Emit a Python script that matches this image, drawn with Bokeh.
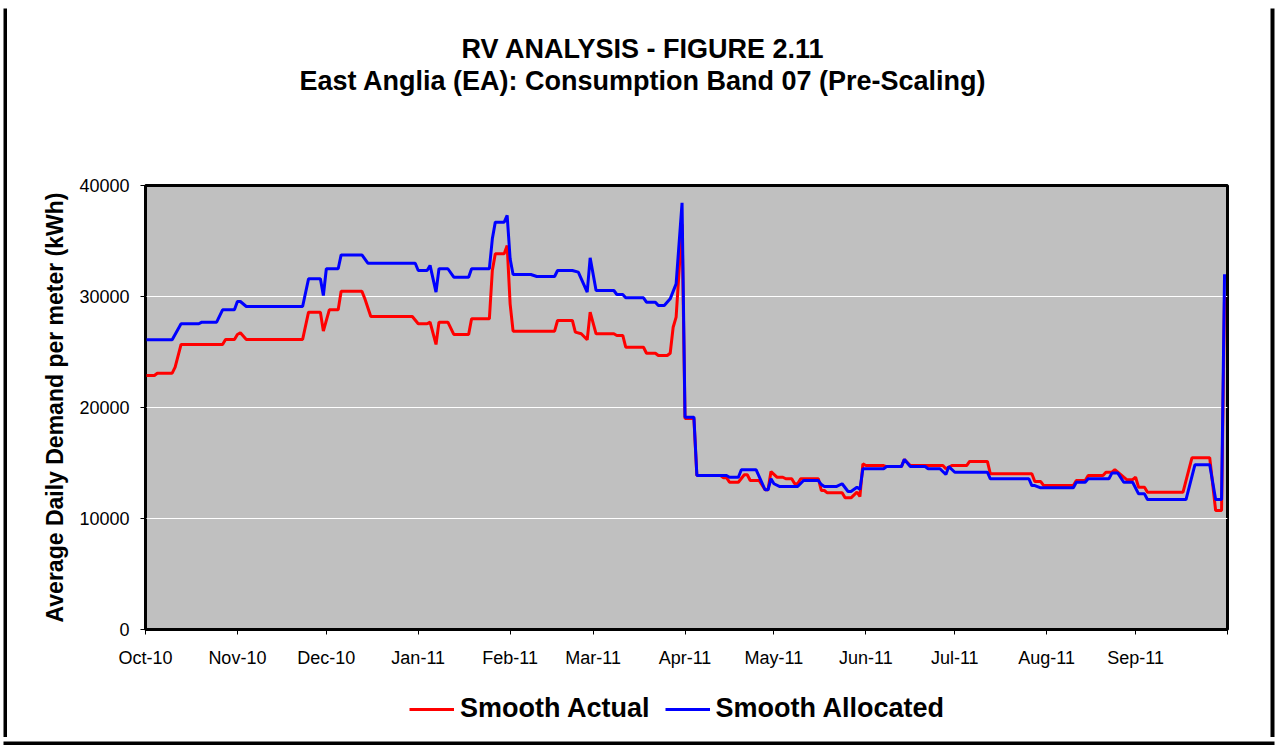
from bokeh.plotting import figure
from bokeh.layouts import column, row
from bokeh.models import (FixedTicker, Legend, LegendItem, Title,
                          NumeralTickFormatter, Range1d)
from bokeh.embed import file_html
from bokeh.resources import INLINE

# ---- data (day offsets from 1 Oct 2010) ----
month_ticks = [0, 31, 61, 92, 123, 151, 182, 212, 243, 273, 304, 334, 365]
month_labels = ["Oct-10", "Nov-10", "Dec-10", "Jan-11", "Feb-11", "Mar-11",
                "Apr-11", "May-11", "Jun-11", "Jul-11", "Aug-11", "Sep-11", ""]
y_ticks = [0, 10000, 20000, 30000, 40000]

allocated_day = [0, 9, 12, 18, 19, 24, 26, 30, 31, 32, 34, 53, 55, 59, 60, 61, 65, 66,
                 73, 75, 91, 92, 95, 96, 98, 99, 102, 104, 109, 110, 116, 117, 118, 121,
                 122, 123, 124, 130, 132, 138, 139, 144, 146, 149, 150, 152, 158, 159,
                 161, 162, 168, 169, 172, 173, 175, 177, 179, 181, 182, 185, 186, 196,
                 197, 200, 201, 206, 209, 210, 211, 212, 214, 220, 222, 227, 228, 229,
                 233, 235, 237, 238, 240, 241, 242, 249, 250, 255, 256, 258, 263, 264,
                 268, 270, 271, 273, 284, 285, 298, 299, 300, 302, 313, 314, 317, 318,
                 325, 326, 328, 330, 333, 335, 337, 338, 351, 354, 359, 361, 363, 364]
allocated_val = [26100, 26100, 27540, 27540, 27690, 27690, 28800, 28800, 29550, 29550,
                 29100, 29100, 31590, 31590, 30090, 32500, 32500, 33750, 33750, 33000,
                 33000, 32340, 32340, 32800, 30390, 32500, 32500, 31740, 31740, 32500,
                 32500, 35200, 36700, 36700, 37300, 33400, 31980, 31980, 31800, 31800,
                 32340, 32340, 32200, 30390, 33490, 30540, 30540, 30180, 30180, 29880,
                 29880, 29490, 29490, 29190, 29190, 29790, 31140, 38440, 19130, 19130,
                 13870, 13870, 13720, 13720, 14390, 14390, 12590, 12590, 13580, 13130,
                 12880, 12880, 13420, 13420, 13060, 12880, 12880, 13130, 12430, 12430,
                 12820, 12620, 14480, 14480, 14680, 14680, 15320, 14680, 14680, 14480,
                 14480, 13960, 14680, 14170, 14170, 13580, 13580, 12970, 12970, 12760,
                 12760, 13270, 13270, 13580, 13580, 14090, 14090, 13270, 13270, 12220,
                 12220, 11710, 11710, 14840, 14840, 11710, 11710, 32000]

actual_day = [0, 3, 4, 9, 10, 12, 26, 27, 30, 31, 32, 34, 53, 55, 59, 60, 62, 65, 66,
              73, 74, 76, 90, 92, 95, 96, 98, 99, 102, 104, 109, 110, 116, 117, 118,
              121, 122, 123, 124, 138, 139, 144, 145, 147, 149, 150, 152, 158, 159,
              161, 162, 168, 169, 172, 173, 176, 177, 178, 179, 181, 182, 185, 186,
              194, 195, 196, 197, 200, 202, 203, 204, 207, 209, 210, 211, 213, 215,
              216, 218, 219, 220, 221, 227, 228, 229, 230, 235, 236, 238, 240, 241,
              242, 243, 249, 250, 255, 256, 258, 269, 270, 272, 277, 278, 284, 285,
              299, 300, 302, 303, 313, 314, 317, 318, 323, 324, 326, 327, 330, 331,
              333, 334, 335, 337, 338, 350, 353, 359, 361, 363, 364]
actual_val = [22880, 22880, 23090, 23090, 23630, 25680, 25680, 26130, 26130, 26580,
              26730, 26130, 26130, 28590, 28590, 26880, 28800, 28800, 30480, 30480,
              29790, 28200, 28200, 27540, 27540, 27690, 25680, 27690, 27690, 26580,
              26580, 27990, 27990, 32340, 33850, 33850, 34590, 29340, 26880, 26880,
              27840, 27840, 26790, 26640, 26100, 28590, 26640, 26640, 26490, 26490,
              25430, 25430, 24890, 24890, 24680, 24680, 24890, 27230, 28140, 36500,
              19000, 19000, 13870, 13870, 13670, 13670, 13270, 13270, 13940, 13940,
              13420, 13420, 12590, 12590, 14230, 13720, 13720, 13580, 13580, 13130,
              13130, 13580, 13580, 12520, 12520, 12310, 12310, 11860, 11860, 12370,
              11980, 14930, 14770, 14770, 14680, 14680, 15320, 14770, 14770, 14480,
              14770, 14770, 15140, 15140, 14030, 14030, 13330, 13330, 12970, 12970,
              13420, 13420, 13870, 13870, 14170, 14170, 14390, 13720, 13500, 13500,
              13720, 12820, 12820, 12370, 12370, 15470, 15470, 10720, 10720, 30000]

title_line1 = "RV ANALYSIS - FIGURE 2.11"
title_line2 = "East Anglia (EA): Consumption Band 07 (Pre-Scaling)"
y_label = "Average Daily Demand per meter (kWh)"
series_names = ["Smooth Actual", "Smooth Allocated"]
series_colors = ["#FF0000", "#0000FF"]

FONT = "Liberation Sans"


def frame_bar(w, h, l, r, t, b):
    """A thin piece of the black outer chart border."""
    f = figure(width=w, height=h, output_backend="svg", toolbar_location=None,
               x_axis_type=None, y_axis_type=None,
               min_border_left=l, min_border_right=r,
               min_border_top=t, min_border_bottom=b)
    f.background_fill_color = "black"
    f.border_fill_color = "white"
    f.outline_line_color = None
    return f


# ---- main chart ----
p_main = figure(width=1263, height=672, output_backend="svg", toolbar_location=None,
                x_range=Range1d(0, 365), y_range=Range1d(0, 40000),
                min_border_left=138, min_border_right=43, min_border_top=177,
                min_border_bottom=51, title=None)

p_main.background_fill_color = "#C0C0C0"
p_main.border_fill_color = "white"
p_main.outline_line_color = "black"
p_main.outline_line_width = 3

p_main.xgrid.visible = False
p_main.ygrid.grid_line_color = "white"
p_main.ygrid.grid_line_width = 1

p_main.yaxis.ticker = FixedTicker(ticks=y_ticks)
p_main.yaxis.formatter = NumeralTickFormatter(format="0")
p_main.xaxis.ticker = FixedTicker(ticks=month_ticks)
p_main.xaxis.major_label_overrides = {t: l for t, l in zip(month_ticks, month_labels)}

for ax in (p_main.xaxis[0], p_main.yaxis[0]):
    ax.axis_line_color = "black"
    ax.axis_line_width = 2
    ax.major_tick_line_color = "black"
    ax.major_tick_line_width = 1
    ax.major_tick_out = 5
    ax.major_tick_in = 0
    ax.minor_tick_out = 0
    ax.minor_tick_in = 0
    ax.major_label_text_font = FONT
    ax.major_label_text_font_size = "18px"
    ax.major_label_text_color = "black"

p_main.yaxis.major_label_standoff = 11
p_main.xaxis.major_label_standoff = 13
p_main.yaxis.axis_label = y_label
p_main.yaxis.axis_label_text_font = FONT
p_main.yaxis.axis_label_text_font_size = "23px"
p_main.yaxis.axis_label_text_font_style = "bold"
p_main.yaxis.axis_label_text_color = "black"
p_main.yaxis.axis_label_standoff = 8

p_main.line(actual_day, actual_val, line_color=series_colors[0], line_width=3)
p_main.line(allocated_day, allocated_val, line_color=series_colors[1], line_width=3)

spacer = Title(text=" ", align="left", standoff=66, text_font=FONT,
               text_font_size="20px")
t2 = Title(text=title_line2, align="left", offset=154, standoff=0,
           text_font=FONT, text_font_size="27px", text_font_style="bold",
           text_color="black")
t1 = Title(text=title_line1, align="left", offset=316, standoff=0,
           text_font=FONT, text_font_size="27px", text_font_style="bold",
           text_color="black")
p_main.add_layout(spacer, "above")
p_main.add_layout(t2, "above")
p_main.add_layout(t1, "above")

# ---- legend strip (same series drawn out of view; only the legend shows) ----
p_leg = figure(width=1263, height=57, output_backend="svg", toolbar_location=None,
               x_axis_type=None, y_axis_type=None,
               x_range=p_main.x_range, y_range=Range1d(100000, 110000),
               min_border_left=0, min_border_right=0, min_border_top=0,
               min_border_bottom=0)
p_leg.background_fill_color = "white"
p_leg.border_fill_color = "white"
p_leg.outline_line_color = None
leg_r = [p_leg.line(actual_day, actual_val, line_color=series_colors[0], line_width=3),
         p_leg.line(allocated_day, allocated_val, line_color=series_colors[1], line_width=3)]

legend = Legend(items=[LegendItem(label=n, renderers=[r])
                       for n, r in zip(series_names, leg_r)],
                orientation="horizontal", location=(264, 13))
legend.background_fill_alpha = 0
legend.border_line_color = None
legend.padding = 0
legend.margin = 0
legend.spacing = 15
legend.label_standoff = 6
legend.glyph_width = 45
legend.glyph_height = 30
legend.label_height = 30
legend.label_text_font = FONT
legend.label_text_font_size = "27px"
legend.label_text_font_style = "bold"
legend.label_text_color = "black"
p_leg.add_layout(legend)

# ---- outer border assembled from thin strips ----
top_bar = frame_bar(1277, 8, 3, 3, 4, 0)
bottom_bar = frame_bar(1277, 8, 3, 3, 0, 4)
left_bar = frame_bar(7, 729, 3, 0, 0, 0)
right_bar = frame_bar(7, 729, 0, 3, 0, 0)

p = column(top_bar,
           row(left_bar, column(p_main, p_leg, spacing=0), right_bar, spacing=0),
           bottom_bar, spacing=0)

open("out.html", "w").write(file_html(p, INLINE))
